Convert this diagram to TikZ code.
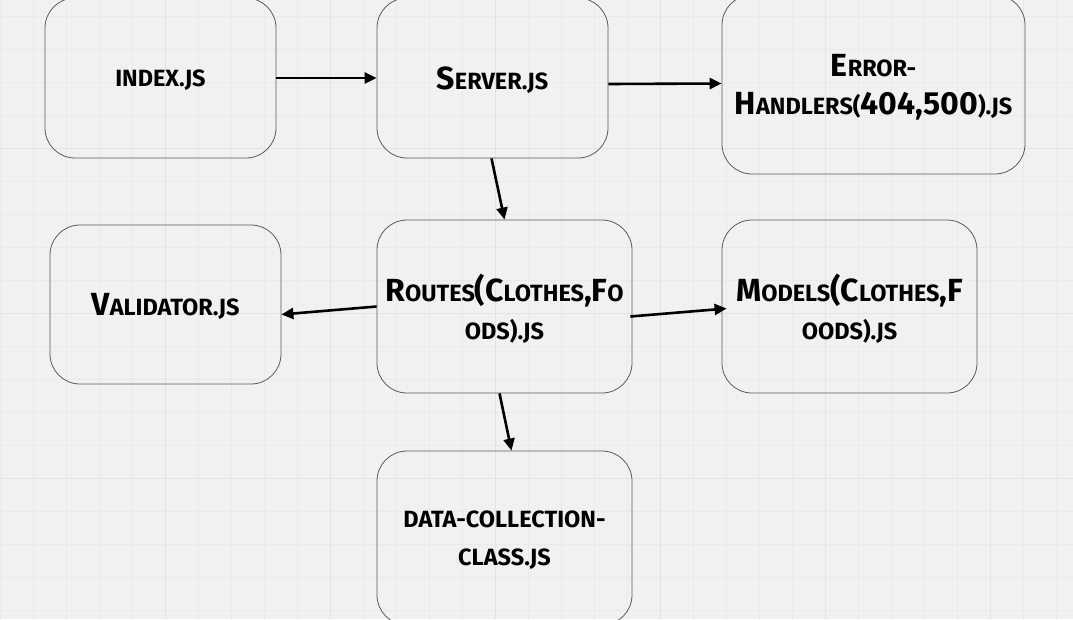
\documentclass[tikz,border=0pt]{standalone}
\usepackage{fontspec}
\setmainfont{Fira Sans}
\usetikzlibrary{arrows.meta}

\definecolor{canvas}{HTML}{F1F1F1}
\definecolor{minorgrid}{HTML}{EAEAEA}
\definecolor{majorgrid}{HTML}{E3E3E3}
\definecolor{boxline}{HTML}{5A5A5A}

\newcommand{\sm}[1]{{\fontsize{23.5}{38}\selectfont #1}}

\begin{document}
\begin{tikzpicture}[x=1pt,y=-1pt,->,>={Triangle[length=12pt,width=11pt]},
    file/.style={rectangle,
          draw = boxline,
          line width = 0.8pt,
          rounded corners = 30pt,
          align = center,
          text depth = 0pt,
          font = \fontsize{32}{38}\selectfont\bfseries},
    link/.style={line width = 2.6pt, black}]

    % canvas and grid
    \fill[canvas] (0,0) rectangle (1073,619);
    \useasboundingbox (0,0) rectangle (1073,619);
    \foreach \x in {0,33,...,1073}
        \draw[-,minorgrid,line width=0.6pt] (\x,0) -- (\x,619);
    \foreach \y in {16,49,...,619}
        \draw[-,minorgrid,line width=0.6pt] (0,\y) -- (1073,\y);
    \foreach \x in {165,330,...,1073}
        \draw[-,majorgrid,line width=0.8pt] (\x,0) -- (\x,619);
    \foreach \y in {148,313,478}
        \draw[-,majorgrid,line width=0.8pt] (0,\y) -- (1073,\y);

    \node[file,
          minimum width = 231pt,
          minimum height = 160pt
          ] (index) at (160.5,78) {\sm{INDEX.JS}};

    \node[file,
          minimum width = 231pt,
          minimum height = 160pt
          ] (server) at (492.5,78) {S\sm{ERVER.JS}};

    \node[file,
          minimum width = 303pt,
          minimum height = 179pt
          ] (error) at (873.5,84.5) {E\sm{RROR-}\\H\sm{ANDLERS(}404,500\sm{).JS}};

    \node[file,
          minimum width = 231pt,
          minimum height = 159pt
          ] (validator) at (165.5,304.5) {V\sm{ALIDATOR.JS}};

    \node[file,
          minimum width = 255pt,
          minimum height = 173pt
          ] (routes) at (504.5,306.5) {R\sm{OUTES}(C\sm{LOTHES},F\sm{O}\\\sm{ODS).JS}};

    \node[file,
          minimum width = 255pt,
          minimum height = 173pt
          ] (models) at (849.5,306.5) {M\sm{ODELS}(C\sm{LOTHES},F\\\sm{OODS).JS}};

    \node[file,
          minimum width = 255pt,
          minimum height = 174pt
          ] (data) at (504.5,538) {\sm{DATA-COLLECTION-}\\\sm{CLASS.JS}};

    \path[link]
    (index) edge [] (server)
    ([yshift=-6pt]server.east) edge [] ([yshift=1pt]error.west)
    ([xshift=-1pt]server.south) edge [] (routes.north)
    (routes.west) edge [] ([yshift=-10pt]validator.east)
    ([xshift=-2pt,yshift=-10pt]routes.east) edge [] ([xshift=5pt,yshift=-2pt]models.west)
    ([xshift=-5pt]routes.south) edge [] ([xshift=7pt]data.north) ;

\end{tikzpicture}
\end{document}
